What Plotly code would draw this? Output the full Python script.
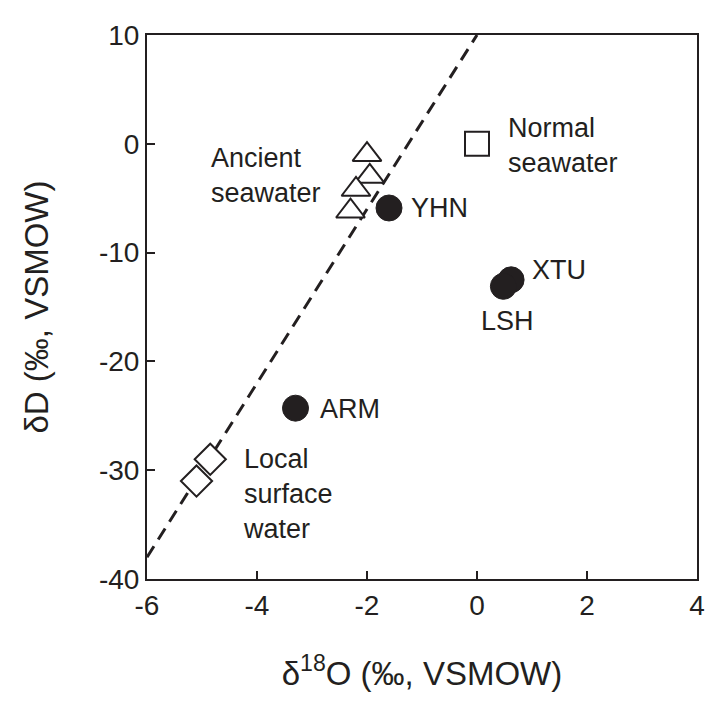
import plotly.graph_objects as go

# Data (δ18O, δD in ‰ VSMOW)
ancient_x = [-2.0, -1.95, -2.2, -2.3]
ancient_y = [-1.0, -3.0, -4.2, -6.2]
normal_x = [0.0]
normal_y = [0.0]
local_x = [-4.85, -5.1]
local_y = [-29.0, -31.0]
sample_names = ["YHN", "XTU", "LSH", "ARM"]
sample_x = [-1.6, 0.62, 0.48, -3.3]
sample_y = [-5.9, -12.5, -13.1, -24.3]
gmwl_x = [-6.0, 0.0]
gmwl_y = [-38.0, 10.0]

x_ticks = [-6, -4, -2, 0, 2, 4]
x_ticktext = ["-6", "-4", "-2", "0", "2", "4"]
y_ticks = [-40, -30, -20, -10, 0, 10]
y_ticktext = ["-40", "-30", "-20", "-10", "0", "10"]

INK = "#231f20"
FONT = "Liberation Sans, Arial, sans-serif"

fig = go.Figure()
fig.add_trace(go.Scatter(x=gmwl_x, y=gmwl_y, mode="lines",
                         line=dict(color=INK, width=3, dash="13px,8px"),
                         hoverinfo="skip"))
fig.add_trace(go.Scatter(x=ancient_x, y=ancient_y, mode="markers",
                         marker=dict(symbol="triangle-up", size=25, color="white",
                                     line=dict(color=INK, width=2))))
fig.add_trace(go.Scatter(x=normal_x, y=normal_y, mode="markers",
                         marker=dict(symbol="square", size=24, color="white",
                                     line=dict(color=INK, width=2))))
fig.add_trace(go.Scatter(x=local_x, y=local_y, mode="markers",
                         marker=dict(symbol="diamond", size=24, color="white",
                                     line=dict(color=INK, width=2))))
fig.add_trace(go.Scatter(x=sample_x, y=sample_y, mode="markers",
                         marker=dict(symbol="circle", size=26, color=INK,
                                     line=dict(color=INK, width=1))))

labels = [
    ("Ancient<br>seawater", -4.87, -2.9),
    ("YHN", -1.23, -5.9),
    ("Normal<br>seawater", 0.53, -0.2),
    ("XTU", 0.97, -11.6),
    ("LSH", 0.03, -16.3),
    ("ARM", -2.89, -24.4),
    ("Local<br>surface<br>water", -4.3, -32.2),
]
for text, x, y in labels:
    fig.add_annotation(x=x, y=y, text=text, showarrow=False, xanchor="left",
                       yanchor="middle", align="left",
                       font=dict(size=27, color=INK, family=FONT))

axis_common = dict(showgrid=False, zeroline=False, showline=True, linecolor=INK,
                   linewidth=2, mirror=True, ticks="inside", ticklen=8,
                   tickwidth=2, tickcolor=INK,
                   tickfont=dict(size=28, color=INK, family=FONT))

fig.update_layout(
    width=709, height=699,
    margin=dict(l=139, r=15, t=19, b=128),
    paper_bgcolor="white", plot_bgcolor="white",
    showlegend=False,
    xaxis=dict(range=[-6, 4], tickvals=x_ticks, ticktext=x_ticktext,
               title=dict(text="δ<sup>18</sup>O (‰, VSMOW)",
                          font=dict(size=33, color=INK, family=FONT), standoff=42),
               **axis_common),
    yaxis=dict(range=[-40, 10], tickvals=y_ticks, ticktext=y_ticktext,
               title=dict(text="δD (‰, VSMOW)",
                          font=dict(size=33, color=INK, family=FONT), standoff=40),
               **axis_common),
)

fig.write_html("out.html")
